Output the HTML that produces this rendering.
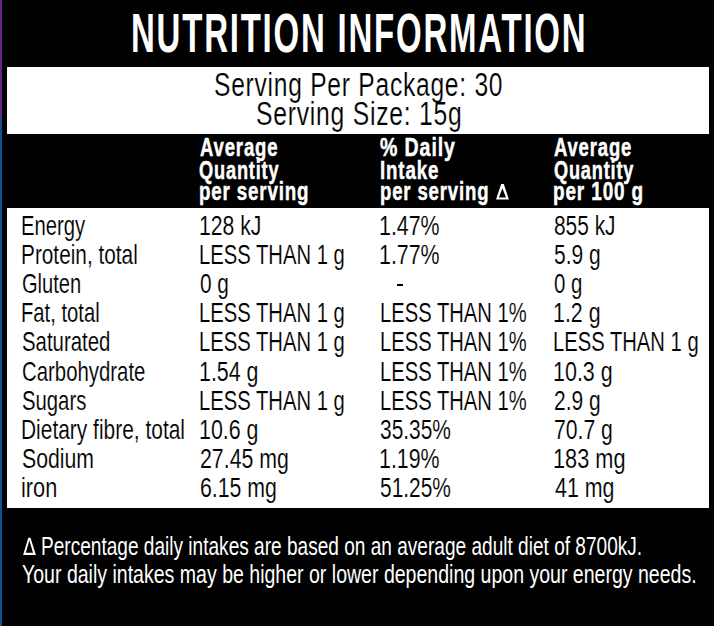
<!DOCTYPE html>
<html><head><meta charset="utf-8"><style>
html,body{margin:0;padding:0;}
body{width:714px;height:626px;overflow:hidden;background:#010101;position:relative;font-family:'Liberation Sans', sans-serif;}
.t{position:absolute;white-space:nowrap;transform-origin:0 0;}
.b{position:absolute;}
</style></head><body>
<div class="b" style="left:0;top:0;width:2px;height:116.5px;background:#662483"></div>
<div class="b" style="left:0;top:116.5px;width:2px;height:509.5px;background:#0f5198"></div>
<div class="b" style="left:7.4px;top:67.3px;width:701.9px;height:66.6px;background:#fff"></div>
<div class="b" style="left:7.4px;top:207.8px;width:701.9px;height:300.7px;background:#fff"></div>
<svg class="b" style="left:0;top:0" width="714" height="626" viewBox="0 0 714 626">
<path fill="#fff" fill-rule="evenodd" d="M501.2 184 L503.8 184 L508.9 199.6 L496 199.6 Z M502.4 188.2 L498.9 197.4 L506 197.4 Z"/>
<path fill="#fff" fill-rule="evenodd" d="M28.3 537.8 L30.5 537.8 L35.9 555 L23.1 555 Z M29.4 540.4 L25.8 552.8 L33 552.8 Z"/>
</svg>
<div class="b" style="left:397px;top:283.9px;width:6.2px;height:2.1px;background:#000"></div>

<div class="t" style="left:131.12px;top:6.00px;font-size:55.5px;line-height:55.5px;font-weight:700;color:#fff;transform:scaleX(0.5943);letter-spacing:3px;">NUTRITION INFORMATION</div>
<div class="t" style="left:213.79px;top:68.80px;font-size:32.6px;line-height:32.6px;font-weight:400;color:#000;transform:scaleX(0.7546);letter-spacing:1px;-webkit-text-stroke:0.2px #fff;">Serving Per Package: 30</div>
<div class="t" style="left:255.78px;top:98.40px;font-size:32.6px;line-height:32.6px;font-weight:400;color:#000;transform:scaleX(0.7582);letter-spacing:1px;-webkit-text-stroke:0.2px #fff;">Serving Size: 15g</div>
<div class="t" style="left:199.50px;top:134.40px;font-size:26.3px;line-height:26.3px;font-weight:700;color:#fff;transform:scaleX(0.7045);letter-spacing:1.2px;-webkit-text-stroke:0.5px #fff;">Average</div>
<div class="t" style="left:199.31px;top:156.50px;font-size:26.3px;line-height:26.3px;font-weight:700;color:#fff;transform:scaleX(0.6922);letter-spacing:1.2px;-webkit-text-stroke:0.5px #fff;">Quantity</div>
<div class="t" style="left:199.29px;top:177.80px;font-size:26.3px;line-height:26.3px;font-weight:700;color:#fff;transform:scaleX(0.7125);letter-spacing:1.2px;-webkit-text-stroke:0.5px #fff;">per serving</div>
<div class="t" style="left:380.20px;top:134.40px;font-size:26.3px;line-height:26.3px;font-weight:700;color:#fff;transform:scaleX(0.7436);letter-spacing:1.2px;-webkit-text-stroke:0.5px #fff;">% Daily</div>
<div class="t" style="left:379.79px;top:156.50px;font-size:26.3px;line-height:26.3px;font-weight:700;color:#fff;transform:scaleX(0.7111);letter-spacing:1.2px;-webkit-text-stroke:0.5px #fff;">Intake</div>
<div class="t" style="left:379.79px;top:177.80px;font-size:26.3px;line-height:26.3px;font-weight:700;color:#fff;transform:scaleX(0.7059);letter-spacing:1.2px;-webkit-text-stroke:0.5px #fff;">per serving</div>
<div class="t" style="left:553.70px;top:134.40px;font-size:26.3px;line-height:26.3px;font-weight:700;color:#fff;transform:scaleX(0.7027);letter-spacing:1.2px;-webkit-text-stroke:0.5px #fff;">Average</div>
<div class="t" style="left:553.51px;top:156.50px;font-size:26.3px;line-height:26.3px;font-weight:700;color:#fff;transform:scaleX(0.6904);letter-spacing:1.2px;-webkit-text-stroke:0.5px #fff;">Quantity</div>
<div class="t" style="left:553.48px;top:177.80px;font-size:26.3px;line-height:26.3px;font-weight:700;color:#fff;transform:scaleX(0.7211);letter-spacing:1.2px;-webkit-text-stroke:0.5px #fff;">per 100 g</div>
<div class="t" style="left:21.29px;top:213.00px;font-size:26.9px;line-height:26.9px;font-weight:400;color:#000;transform:scaleX(0.7542);-webkit-text-stroke:0.15px #fff;">Energy</div>
<div class="t" style="left:198.93px;top:213.00px;font-size:26.9px;line-height:26.9px;font-weight:400;color:#000;transform:scaleX(0.7868);-webkit-text-stroke:0.15px #fff;">128 kJ</div>
<div class="t" style="left:379.41px;top:213.00px;font-size:26.9px;line-height:26.9px;font-weight:400;color:#000;transform:scaleX(0.7946);-webkit-text-stroke:0.15px #fff;">1.47%</div>
<div class="t" style="left:554.02px;top:213.00px;font-size:26.9px;line-height:26.9px;font-weight:400;color:#000;transform:scaleX(0.7766);-webkit-text-stroke:0.15px #fff;">855 kJ</div>
<div class="t" style="left:21.25px;top:242.10px;font-size:26.9px;line-height:26.9px;font-weight:400;color:#000;transform:scaleX(0.7736);-webkit-text-stroke:0.15px #fff;">Protein, total</div>
<div class="t" style="left:199.00px;top:242.10px;font-size:26.9px;line-height:26.9px;font-weight:400;color:#000;transform:scaleX(0.7521);-webkit-text-stroke:0.15px #fff;">LESS THAN 1 g</div>
<div class="t" style="left:379.41px;top:242.10px;font-size:26.9px;line-height:26.9px;font-weight:400;color:#000;transform:scaleX(0.7946);-webkit-text-stroke:0.15px #fff;">1.77%</div>
<div class="t" style="left:554.02px;top:242.10px;font-size:26.9px;line-height:26.9px;font-weight:400;color:#000;transform:scaleX(0.7807);-webkit-text-stroke:0.15px #fff;">5.9 g</div>
<div class="t" style="left:22.05px;top:271.20px;font-size:26.9px;line-height:26.9px;font-weight:400;color:#000;transform:scaleX(0.7468);-webkit-text-stroke:0.15px #fff;">Gluten</div>
<div class="t" style="left:199.73px;top:271.20px;font-size:26.9px;line-height:26.9px;font-weight:400;color:#000;transform:scaleX(0.7743);-webkit-text-stroke:0.15px #fff;">0 g</div>
<div class="t" style="left:554.04px;top:271.20px;font-size:26.9px;line-height:26.9px;font-weight:400;color:#000;transform:scaleX(0.7600);-webkit-text-stroke:0.15px #fff;">0 g</div>
<div class="t" style="left:21.30px;top:300.30px;font-size:26.9px;line-height:26.9px;font-weight:400;color:#000;transform:scaleX(0.7515);-webkit-text-stroke:0.15px #fff;">Fat, total</div>
<div class="t" style="left:199.00px;top:300.30px;font-size:26.9px;line-height:26.9px;font-weight:400;color:#000;transform:scaleX(0.7521);-webkit-text-stroke:0.15px #fff;">LESS THAN 1 g</div>
<div class="t" style="left:379.50px;top:300.30px;font-size:26.9px;line-height:26.9px;font-weight:400;color:#000;transform:scaleX(0.7513);-webkit-text-stroke:0.15px #fff;">LESS THAN 1%</div>
<div class="t" style="left:553.21px;top:300.30px;font-size:26.9px;line-height:26.9px;font-weight:400;color:#000;transform:scaleX(0.7946);-webkit-text-stroke:0.15px #fff;">1.2 g</div>
<div class="t" style="left:22.04px;top:329.40px;font-size:26.9px;line-height:26.9px;font-weight:400;color:#000;transform:scaleX(0.7579);-webkit-text-stroke:0.15px #fff;">Saturated</div>
<div class="t" style="left:199.00px;top:329.40px;font-size:26.9px;line-height:26.9px;font-weight:400;color:#000;transform:scaleX(0.7521);-webkit-text-stroke:0.15px #fff;">LESS THAN 1 g</div>
<div class="t" style="left:379.50px;top:329.40px;font-size:26.9px;line-height:26.9px;font-weight:400;color:#000;transform:scaleX(0.7513);-webkit-text-stroke:0.15px #fff;">LESS THAN 1%</div>
<div class="t" style="left:553.30px;top:329.40px;font-size:26.9px;line-height:26.9px;font-weight:400;color:#000;transform:scaleX(0.7516);-webkit-text-stroke:0.15px #fff;">LESS THAN 1 g</div>
<div class="t" style="left:22.04px;top:358.50px;font-size:26.9px;line-height:26.9px;font-weight:400;color:#000;transform:scaleX(0.7571);-webkit-text-stroke:0.15px #fff;">Carbohydrate</div>
<div class="t" style="left:198.91px;top:358.50px;font-size:26.9px;line-height:26.9px;font-weight:400;color:#000;transform:scaleX(0.7958);-webkit-text-stroke:0.15px #fff;">1.54 g</div>
<div class="t" style="left:379.50px;top:358.50px;font-size:26.9px;line-height:26.9px;font-weight:400;color:#000;transform:scaleX(0.7513);-webkit-text-stroke:0.15px #fff;">LESS THAN 1%</div>
<div class="t" style="left:553.20px;top:358.50px;font-size:26.9px;line-height:26.9px;font-weight:400;color:#000;transform:scaleX(0.7986);-webkit-text-stroke:0.15px #fff;">10.3 g</div>
<div class="t" style="left:22.05px;top:387.60px;font-size:26.9px;line-height:26.9px;font-weight:400;color:#000;transform:scaleX(0.7548);-webkit-text-stroke:0.15px #fff;">Sugars</div>
<div class="t" style="left:199.00px;top:387.60px;font-size:26.9px;line-height:26.9px;font-weight:400;color:#000;transform:scaleX(0.7521);-webkit-text-stroke:0.15px #fff;">LESS THAN 1 g</div>
<div class="t" style="left:379.50px;top:387.60px;font-size:26.9px;line-height:26.9px;font-weight:400;color:#000;transform:scaleX(0.7513);-webkit-text-stroke:0.15px #fff;">LESS THAN 1%</div>
<div class="t" style="left:554.02px;top:387.60px;font-size:26.9px;line-height:26.9px;font-weight:400;color:#000;transform:scaleX(0.7807);-webkit-text-stroke:0.15px #fff;">2.9 g</div>
<div class="t" style="left:21.24px;top:416.70px;font-size:26.9px;line-height:26.9px;font-weight:400;color:#000;transform:scaleX(0.7783);-webkit-text-stroke:0.15px #fff;">Dietary fibre, total</div>
<div class="t" style="left:198.91px;top:416.70px;font-size:26.9px;line-height:26.9px;font-weight:400;color:#000;transform:scaleX(0.7958);-webkit-text-stroke:0.15px #fff;">10.6 g</div>
<div class="t" style="left:380.22px;top:416.70px;font-size:26.9px;line-height:26.9px;font-weight:400;color:#000;transform:scaleX(0.7778);-webkit-text-stroke:0.15px #fff;">35.35%</div>
<div class="t" style="left:554.01px;top:416.70px;font-size:26.9px;line-height:26.9px;font-weight:400;color:#000;transform:scaleX(0.7875);-webkit-text-stroke:0.15px #fff;">70.7 g</div>
<div class="t" style="left:22.01px;top:445.80px;font-size:26.9px;line-height:26.9px;font-weight:400;color:#000;transform:scaleX(0.7899);-webkit-text-stroke:0.15px #fff;">Sodium</div>
<div class="t" style="left:199.71px;top:445.80px;font-size:26.9px;line-height:26.9px;font-weight:400;color:#000;transform:scaleX(0.7927);-webkit-text-stroke:0.15px #fff;">27.45 mg</div>
<div class="t" style="left:379.41px;top:445.80px;font-size:26.9px;line-height:26.9px;font-weight:400;color:#000;transform:scaleX(0.7946);-webkit-text-stroke:0.15px #fff;">1.19%</div>
<div class="t" style="left:553.18px;top:445.80px;font-size:26.9px;line-height:26.9px;font-weight:400;color:#000;transform:scaleX(0.8081);-webkit-text-stroke:0.15px #fff;">183 mg</div>
<div class="t" style="left:21.18px;top:474.90px;font-size:26.9px;line-height:26.9px;font-weight:400;color:#000;transform:scaleX(0.8095);-webkit-text-stroke:0.15px #fff;">iron</div>
<div class="t" style="left:199.71px;top:474.90px;font-size:26.9px;line-height:26.9px;font-weight:400;color:#000;transform:scaleX(0.7916);-webkit-text-stroke:0.15px #fff;">6.15 mg</div>
<div class="t" style="left:380.22px;top:474.90px;font-size:26.9px;line-height:26.9px;font-weight:400;color:#000;transform:scaleX(0.7778);-webkit-text-stroke:0.15px #fff;">51.25%</div>
<div class="t" style="left:554.80px;top:474.90px;font-size:26.9px;line-height:26.9px;font-weight:400;color:#000;transform:scaleX(0.7945);-webkit-text-stroke:0.15px #fff;">41 mg</div>
<div class="t" style="left:40.73px;top:533.70px;font-size:25.9px;line-height:25.9px;font-weight:400;color:#fff;transform:scaleX(0.7366);">Percentage daily intakes are based on an average adult diet of 8700kJ.</div>
<div class="t" style="left:22.25px;top:562.20px;font-size:25.9px;line-height:25.9px;font-weight:400;color:#fff;transform:scaleX(0.7544);">Your daily intakes may be higher or lower depending upon your energy needs.</div>
</body></html>
